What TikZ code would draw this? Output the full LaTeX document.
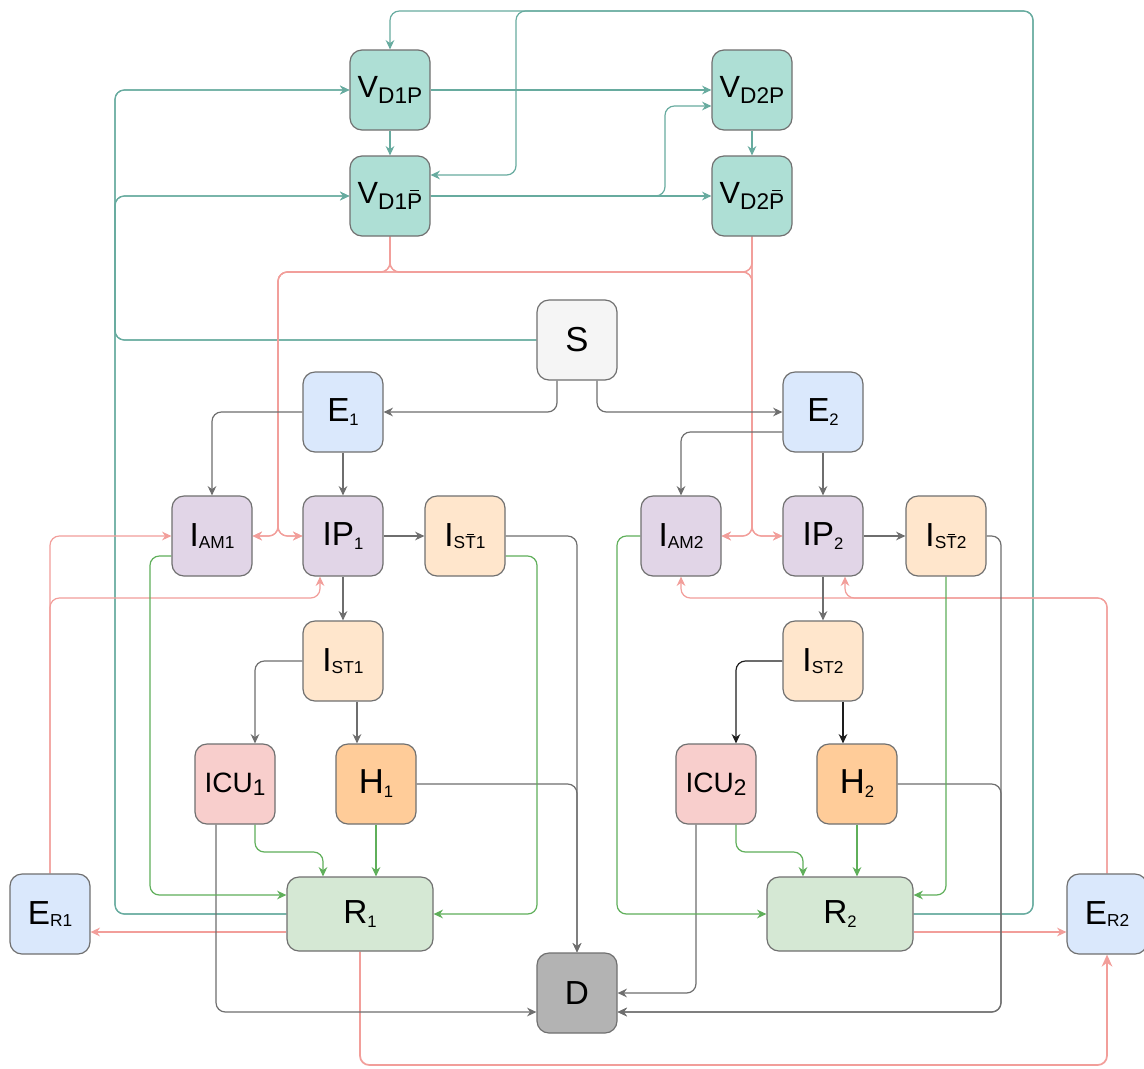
\documentclass[tikz,border=0pt]{standalone}
\usepackage{fontspec}
\setmainfont{Liberation Sans}
\usetikzlibrary{arrows.meta,calc,backgrounds}

\definecolor{boxline}{HTML}{707070}
\definecolor{vfill}{HTML}{AEDFD5}
\definecolor{sfill}{HTML}{F5F5F5}
\definecolor{efill}{HTML}{DAE8FC}
\definecolor{ifill}{HTML}{E1D5E7}
\definecolor{stfill}{HTML}{FFE6CC}
\definecolor{icufill}{HTML}{F8CECC}
\definecolor{hfill}{HTML}{FFCC99}
\definecolor{rfill}{HTML}{D5E8D4}
\definecolor{dfill}{HTML}{B3B3B3}
\definecolor{tealc}{HTML}{67AB9F}
\definecolor{pinkc}{HTML}{F29E9A}
\definecolor{greenc}{HTML}{5FAF5A}
\definecolor{greyc}{HTML}{6E6E6E}
\definecolor{blackc}{HTML}{1E1E1E}

% compartment label: main letter(s) with a lowered subscript
\newcommand\cmplab[5]{{\fontsize{#1}{#1}\selectfont #2}\raisebox{#5}{\fontsize{#3}{#3}\selectfont #4}}
% short bar over a single letter
\newcommand\barover[1]{\ooalign{#1\cr\hidewidth\rule[0.80em]{0.42em}{0.06em}\hidewidth\cr}}

\tikzset{
  box/.style={draw=boxline, line width=0.9pt, rounded corners=9pt,
    minimum width=60pt, minimum height=60pt, inner sep=0pt, align=center},
  rbox/.style={box, minimum width=109.5pt, minimum height=55.5pt},
  lnk/.style={line width=0.9pt, rounded corners=7pt,
    -{Stealth[length=7pt,width=6.5pt]}},
  tealflow/.style={lnk, draw=tealc},
  pinkflow/.style={lnk, draw=pinkc},
  greenflow/.style={lnk, draw=greenc},
  greyflow/.style={lnk, draw=greyc},
  blackflow/.style={lnk, draw=blackc},
}

\begin{document}
\begin{tikzpicture}[x=0.75pt,y=-0.75pt]
\useasboundingbox (0,0) rectangle (1144,1068);

% ---------- vaccination compartments ----------
\node[box, fill=vfill] (VD1P)  at (390,90)  {\cmplab{23pt}{V}{17pt}{D1P}{-4pt}};
\node[box, fill=vfill] (VD1Pb) at (390,196) {\cmplab{23pt}{V}{17pt}{D1\barover{P}}{-4pt}};
\node[box, fill=vfill] (VD2P)  at (752,90)  {\cmplab{23pt}{V}{17pt}{D2P}{-4pt}};
\node[box, fill=vfill] (VD2Pb) at (752,196) {\cmplab{23pt}{V}{17pt}{D2\barover{P}}{-4pt}};

% ---------- susceptible and exposed ----------
\node[box, fill=sfill] (S)  at (577,340) {\fontsize{26pt}{26pt}\selectfont S};
\node[box, fill=efill] (E1) at (343,412) {\cmplab{25pt}{E}{12.5pt}{1}{-3pt}};
\node[box, fill=efill] (E2) at (823,412) {\cmplab{25pt}{E}{12.5pt}{2}{-3pt}};

% ---------- infectious, strain 1 ----------
\node[box, fill=ifill]  (IAM1) at (212,536) {\cmplab{25pt}{I}{13pt}{AM1}{-2pt}};
\node[box, fill=ifill]  (IP1)  at (343,536) {\cmplab{25pt}{IP}{12.5pt}{1}{-3pt}};
\node[box, fill=stfill] (ISb1) at (465,536) {\cmplab{25pt}{I}{13pt}{S\barover{T}1}{-2pt}};
\node[box, fill=stfill] (IST1) at (343,661) {\cmplab{25pt}{I}{13pt}{ST1}{-2pt}};
\node[box, fill=icufill] (ICU1) at (235,784) {\cmplab{21pt}{ICU}{17pt}{1}{-2pt}};
\node[box, fill=hfill]  (H1)   at (376,784) {\cmplab{26pt}{H}{12.5pt}{1}{-3pt}};

% ---------- infectious, strain 2 ----------
\node[box, fill=ifill]  (IAM2) at (681,536) {\cmplab{25pt}{I}{13pt}{AM2}{-2pt}};
\node[box, fill=ifill]  (IP2)  at (823,536) {\cmplab{25pt}{IP}{12.5pt}{2}{-3pt}};
\node[box, fill=stfill] (ISb2) at (946,536) {\cmplab{25pt}{I}{13pt}{S\barover{T}2}{-2pt}};
\node[box, fill=stfill] (IST2) at (823,661) {\cmplab{25pt}{I}{13pt}{ST2}{-2pt}};
\node[box, fill=icufill] (ICU2) at (716,784) {\cmplab{21pt}{ICU}{17pt}{2}{-2pt}};
\node[box, fill=hfill]  (H2)   at (857,784) {\cmplab{26pt}{H}{12.5pt}{2}{-3pt}};

% ---------- recovered, re-exposed, dead ----------
\node[rbox, fill=rfill] (R1) at (360,914) {\cmplab{25pt}{R}{12.5pt}{1}{-3pt}};
\node[rbox, fill=rfill] (R2) at (840,914) {\cmplab{25pt}{R}{12.5pt}{2}{-3pt}};
\node[box, fill=efill] (ER1) at (50,914)   {\cmplab{25pt}{E}{13pt}{R1}{-2pt}};
\node[box, fill=efill] (ER2) at (1107,914) {\cmplab{25pt}{E}{13pt}{R2}{-2pt}};
\node[box, fill=dfill] (D)   at (577,993)  {\fontsize{25pt}{25pt}\selectfont D};

\begin{pgfonlayer}{background}
\fill[white] (0,0) rectangle (1144,1068);

% ---------- vaccination flows ----------
\draw[tealflow] (VD1P.east) -- (VD2P.west);
\draw[tealflow] (VD1P.south) -- (VD1Pb.north);
\draw[tealflow] (VD2P.south) -- (VD2Pb.north);
\draw[tealflow] (VD1Pb.east) -- (VD2Pb.west);
\draw[tealflow] (VD1Pb.east) -- (665,196) -- (665,106) -- ($(VD2P.west)+(0,16)$);
\draw[tealflow] (S.west) -- (115,340) -- (115,90) -- (VD1P.west);
\draw[tealflow] (S.west) -- (115,340) -- (115,196) -- (VD1Pb.west);
\draw[tealflow] (R1.west) -- (115,914) -- (115,90) -- (VD1P.west);
\draw[tealflow] (R1.west) -- (115,914) -- (115,196) -- (VD1Pb.west);
\draw[tealflow] (R2.east) -- (1033,914) -- (1033,11) -- (390,11) -- (VD1P.north);
\draw[tealflow] (R2.east) -- (1033,914) -- (1033,11) -- (516,11) -- (516,175) -- ($(VD1Pb.east)+(0,-21)$);

% ---------- infection of vaccinated ----------
\draw[pinkflow] (VD1Pb.south) -- (390,272) -- (278,272) -- (278,536) -- (IAM1.east);
\draw[pinkflow] (VD1Pb.south) -- (390,272) -- (278,272) -- (278,536) -- (IP1.west);
\draw[pinkflow] (VD1Pb.south) -- (390,272) -- (752,272) -- (752,536) -- (IAM2.east);
\draw[pinkflow] (VD1Pb.south) -- (390,272) -- (752,272) -- (752,536) -- (IP2.west);
\draw[pinkflow] (VD2Pb.south) -- (752,272) -- (278,272) -- (278,536) -- (IAM1.east);
\draw[pinkflow] (VD2Pb.south) -- (752,272) -- (278,272) -- (278,536) -- (IP1.west);
\draw[pinkflow] (VD2Pb.south) -- (752,536) -- (IAM2.east);
\draw[pinkflow] (VD2Pb.south) -- (752,536) -- (IP2.west);

% ---------- re-exposure ----------
\draw[pinkflow] (ER1.north) -- (50,536) -- (IAM1.west);
\draw[pinkflow] (ER1.north) -- (50,598) -- (320,598) -- ($(IP1.south)+(-23,0)$);
\draw[pinkflow] (ER2.north) -- (1107,598) -- (845,598) -- ($(IP2.south)+(22,0)$);
\draw[pinkflow] (ER2.north) -- (1107,598) -- (681,598) -- (IAM2.south);
\draw[pinkflow] ($(R1.west)+(0,18)$) -- ($(ER1.east)+(0,18)$);
\draw[pinkflow] ($(R2.east)+(0,18)$) -- ($(ER2.west)+(0,18)$);
\draw[pinkflow, line width=1.3pt, -{Stealth[length=9pt,width=8pt]}]
  (R1.south) -- (360,1065) -- (1107,1065) -- (ER2.south);

% ---------- disease progression ----------
\draw[greyflow] ($(S.south)+(-20,0)$) -- (557,412) -- (E1.east);
\draw[greyflow] ($(S.south)+(20,0)$) -- (597,412) -- (E2.west);
\draw[greyflow] (E1.west) -- (212,412) -- (IAM1.north);
\draw[greyflow] (E1.south) -- (IP1.north);
\draw[greyflow] ($(E2.west)+(0,20)$) -- (681,432) -- (IAM2.north);
\draw[greyflow] (E2.south) -- (IP2.north);
\draw[greyflow] (IP1.east) -- (ISb1.west);
\draw[greyflow] (IP2.east) -- (ISb2.west);
\draw[greyflow] (IP1.south) -- (IST1.north);
\draw[greyflow] (IP2.south) -- (IST2.north);
\draw[greyflow] (IST1.west) -- (255,661) -- ($(ICU1.north)+(20,0)$);
\draw[greyflow] ($(IST1.south)+(14,0)$) -- ($(H1.north)+(-19,0)$);
\draw[blackflow] (IST2.west) -- (736,661) -- ($(ICU2.north)+(20,0)$);
\draw[blackflow] ($(IST2.south)+(20,0)$) -- ($(H2.north)+(-14,0)$);

% ---------- deaths ----------
\draw[greyflow] (ISb1.east) -- (577,536) -- (D.north);
\draw[greyflow] (H1.east) -- (577,784) -- (D.north);
\draw[greyflow] (ISb2.east) -- (1001,536) -- (1001,1012) -- ($(D.east)+(0,19)$);
\draw[greyflow] (H2.east) -- (1001,784) -- (1001,1012) -- ($(D.east)+(0,19)$);
\draw[greyflow] ($(ICU1.south)+(-19,0)$) -- (216,1012) -- ($(D.west)+(0,19)$);
\draw[greyflow] ($(ICU2.south)+(-20,0)$) -- (696,993) -- (D.east);

% ---------- recoveries ----------
\draw[greenflow] ($(IAM1.west)+(0,20)$) -- (150,556) -- (150,895) -- ($(R1.west)+(0,-19)$);
\draw[greenflow] ($(ISb1.east)+(0,20)$) -- (537,556) -- (537,914) -- (R1.east);
\draw[greenflow] ($(ICU1.south)+(20,0)$) -- (255,852) -- (323,852) -- ($(R1.north)+(-37,0)$);
\draw[greenflow] (H1.south) -- ($(R1.north)+(16,0)$);
\draw[greenflow] (IAM2.west) -- (617,536) -- (617,914) -- (R2.west);
\draw[greenflow] (ISb2.south) -- (946,895) -- ($(R2.east)+(0,-19)$);
\draw[greenflow] ($(ICU2.south)+(20,0)$) -- (736,852) -- (803,852) -- ($(R2.north)+(-37,0)$);
\draw[greenflow] (H2.south) -- ($(R2.north)+(17,0)$);
\end{pgfonlayer}
\end{tikzpicture}
\end{document}
